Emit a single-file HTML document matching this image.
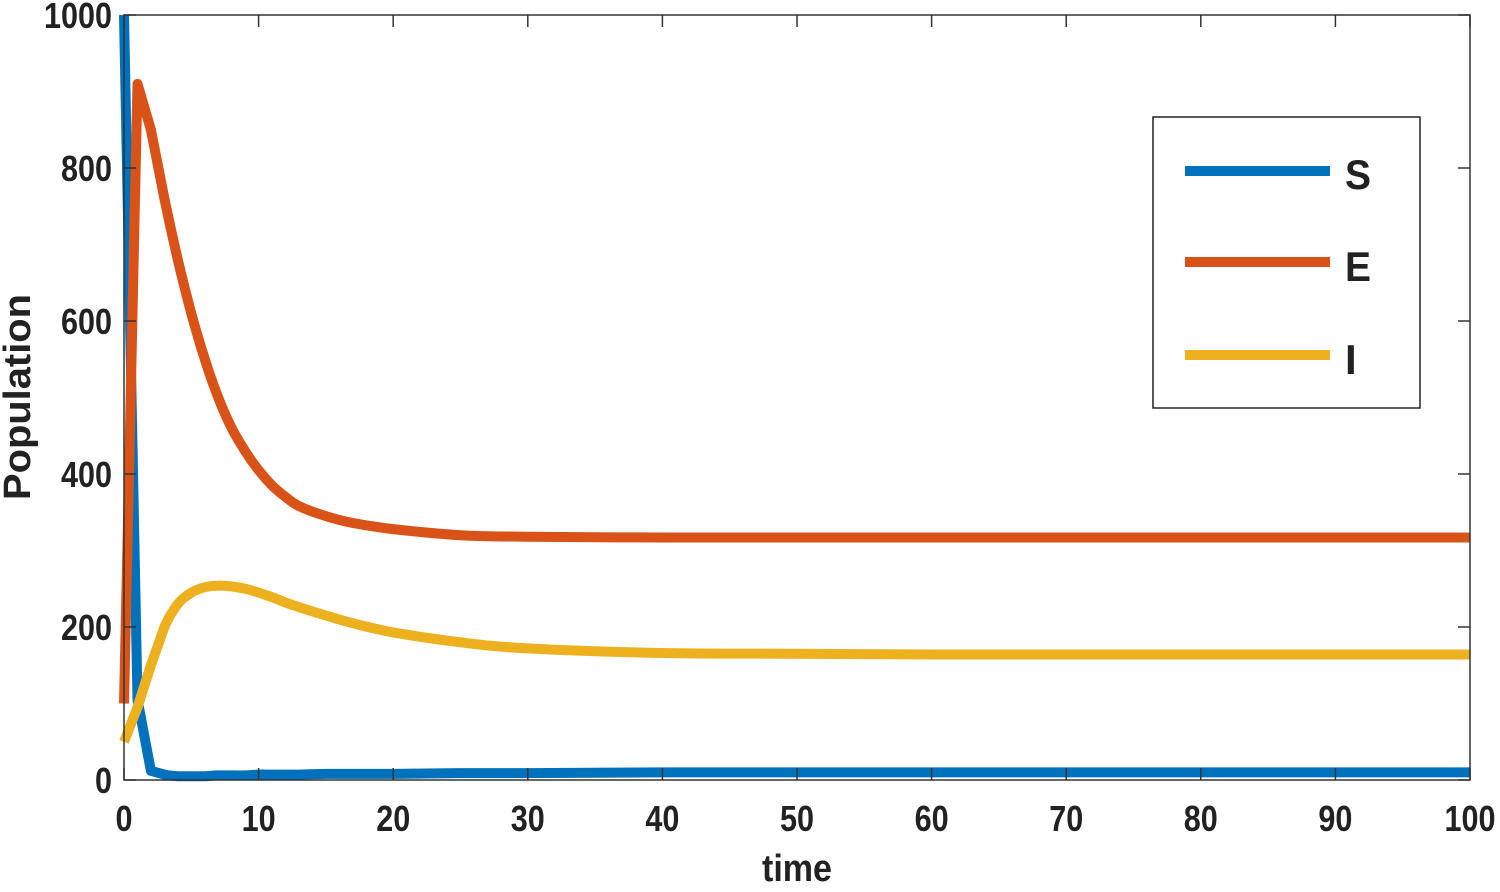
<!DOCTYPE html>
<html><head><meta charset="utf-8"><style>
body{margin:0;background:#fff}
text{font-family:"Liberation Sans",sans-serif;font-weight:bold;fill:#222}
</style></head><body>
<svg id="chart" width="1500" height="887" xmlns="http://www.w3.org/2000/svg">
<g id="marks"></g>
<g id="axes"></g>
</svg>
<script>
const times=[0,1,2,3,4,5,6,7,8,9,10,11,12,13,15,17,20,25,30,40,50,60,80,100];
const sVals=[1000,105,12,7,5,5,5,6,6,6,7,7,7,7,8,8,8,9,9,10,10,10,10,10];
const eVals=[100,910,850,760,680,610,550,500,460,430,405,385,370,358,345,336,328,320,318,317,317,317,317,317];
const iVals=[50,95,150,200,230,245,252,254,253,250,245,239,232,226,215,205,193,180,172,166,165,164,164,164];
const xTicks=[0,10,20,30,40,50,60,70,80,90,100];
const yTicks=[0,200,400,600,800,1000];
const NS="http://www.w3.org/2000/svg";
const L=124,R=1470,T=15,B=780;
const xs=v=>L+(v-0)/100*(R-L);
const ys=v=>B-v/1000*(B-T);
const marks=document.getElementById('marks'),axes=document.getElementById('axes');
function mk(tag,attrs,parent){const e=document.createElementNS(NS,tag);for(const k in attrs)e.setAttribute(k,attrs[k]);parent.appendChild(e);return e;}
const series=[[sVals,'#0072BD','series-s'],[eVals,'#D95319','series-e'],[iVals,'#EDB120','series-i']];
const frame=mk('rect',{x:L,y:T,width:R-L,height:B-T,fill:'none',stroke:'#333','stroke-width':1.5},axes);


function curve(pts){
  let d='M'+pts[0][0].toFixed(1)+','+pts[0][1].toFixed(1);
  for(let i=0;i<pts.length-1;i++){
    const p0=pts[Math.max(i-1,0)],p1=pts[i],p2=pts[i+1],p3=pts[Math.min(i+2,pts.length-1)];
    const k=(i===0)?0:1/6, k2=(i+2>=pts.length||i===0)?0:1/6;
    const c1=[p1[0]+(p2[0]-p0[0])*k,p1[1]+(p2[1]-p0[1])*k];
    const c2=[p2[0]-(p3[0]-p1[0])*k2,p2[1]-(p3[1]-p1[1])*k2];
    d+=' C'+c1[0].toFixed(1)+','+c1[1].toFixed(1)+' '+c2[0].toFixed(1)+','+c2[1].toFixed(1)+' '+p2[0].toFixed(1)+','+p2[1].toFixed(1);
  }
  return d;
}
series.forEach(([vals,col,name])=>{
  const pts=times.map((t,i)=>[xs(t),ys(vals[i])]);
  const head=pts.slice(0,3).map((p,i)=>(i?'L':'M')+p[0].toFixed(1)+','+p[1].toFixed(1)).join(' ');
  const tail=curve(pts.slice(2)).replace(/^M[^ ]+/,'');
  const p=mk('path',{d:head+tail,fill:'none',stroke:col,'stroke-width':10,'stroke-linejoin':'round'},marks);
  
  
});
xTicks.forEach(v=>{
  const x=xs(v);
  mk('line',{x1:x,x2:x,y1:B,y2:B-12,stroke:'#333','stroke-width':1.5},axes);
  mk('line',{x1:x,x2:x,y1:T,y2:T+12,stroke:'#333','stroke-width':1.5},axes);
  const t=mk('text',{x:x,y:831,'text-anchor':'middle','font-size':36,textLength:String(v).length*17,lengthAdjust:'spacingAndGlyphs'},axes);
  t.textContent=v;
  
  
});
yTicks.forEach(v=>{
  const y=ys(v);
  mk('line',{x1:L,x2:L+12,y1:y,y2:y,stroke:'#333','stroke-width':1.5},axes);
  mk('line',{x1:R,x2:R-12,y1:y,y2:y,stroke:'#333','stroke-width':1.5},axes);
  const t=mk('text',{x:112,y:y+13,'text-anchor':'end','font-size':36,textLength:String(v).length*17,lengthAdjust:'spacingAndGlyphs'},axes);
  t.textContent=v;
  
  
});
</script>
<svg style="position:absolute;left:0;top:0" width="1500" height="887" xmlns="http://www.w3.org/2000/svg">
<text x="797" y="881" text-anchor="middle" font-size="38" textLength="70" lengthAdjust="spacingAndGlyphs">time</text>
<text transform="translate(30,397) rotate(-90)" text-anchor="middle" font-size="38" textLength="206" lengthAdjust="spacingAndGlyphs">Population</text>
<g>
<rect x="1153" y="117" width="267" height="291" fill="#fff" stroke="#222" stroke-width="1.5"/>
<line x1="1185" x2="1330" y1="171" y2="171" stroke="#0072BD" stroke-width="10"/>
<line x1="1185" x2="1330" y1="262" y2="262" stroke="#D95319" stroke-width="10"/>
<line x1="1185" x2="1330" y1="355" y2="355" stroke="#EDB120" stroke-width="10"/>
<text x="1345" y="189" font-size="42" fill="#111" textLength="26" lengthAdjust="spacingAndGlyphs">S</text>
<text x="1345" y="281" font-size="42" fill="#111" textLength="26" lengthAdjust="spacingAndGlyphs">E</text>
<text x="1345" y="374" font-size="42" fill="#111">I</text>
</g>
</svg>
</body></html>
